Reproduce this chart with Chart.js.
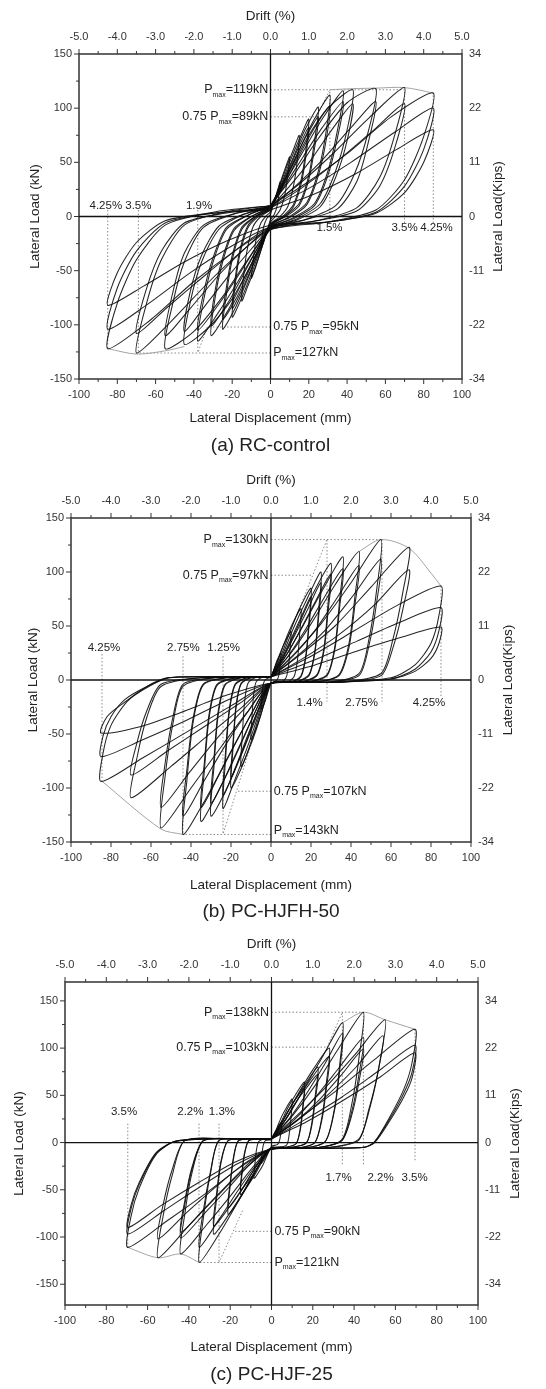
<!DOCTYPE html>
<html>
<head>
<meta charset="utf-8">
<script src="https://cdn.jsdelivr.net/npm/chart.js@4.4.1/dist/chart.umd.min.js"></script>
<style>
  body { margin: 0; background: #fff; width: 546px; height: 1389px; position: relative; overflow: hidden; }
  .panel { position: absolute; left: 0; width: 546px; }
</style>
</head>
<body>
<div class="panel" style="top:0"><canvas id="c1" width="546" height="458"></canvas></div>
<div class="panel" style="top:458px"><canvas id="c2" width="546" height="467"></canvas></div>
<div class="panel" style="top:925px"><canvas id="c3" width="546" height="464"></canvas></div>
<script>
const FF = '"Liberation Sans", Arial, sans-serif';

// axis ticks
const dispTicks = [-100, -80, -60, -40, -20, 0, 20, 40, 60, 80, 100];
const driftTicks = [-5, -4, -3, -2, -1, 0, 1, 2, 3, 4, 5];
const loadTicks = [-150, -100, -50, 0, 50, 100, 150];
const kipsLabels = ['-34', '-22', '-11', '0', '11', '22', '34'];

// (a) RC-control: load cycles [mm, kN]
const rcLoops = [
  [[0,2],[2,14],[4,26],[5,32],[4.5,22],[3.5,10],[2,2],[0,-3],[-2,-14],[-4,-25],[-5,-30],[-4.5,-20],[-3.5,-9],[-2,-2],[0,2]],
  [[0,4],[3,20],[6,36],[8,46],[10,55],[9,38],[7.5,20],[5,6],[2,-1],[0,-5],[-3,-20],[-6,-37],[-8,-48],[-10,-57],[-9,-40],[-7.5,-21],[-5,-6],[-2,1],[0,4]],
  [[0,6],[4,24],[8,44],[12,62],[15,75],[14,52],[12,28],[9,9],[5,0],[0,-7],[-4,-26],[-8,-47],[-12,-65],[-15,-78],[-14,-54],[-12,-29],[-9,-9],[-5,0],[0,6]],
  [[0,7],[5,27],[10,50],[15,71],[20,90],[18.5,62],[16,34],[12,11],[7,1],[0,-8],[-5,-29],[-10,-53],[-15,-75],[-20,-93],[-18.5,-64],[-16,-35],[-12,-11],[-7,-1],[0,7]],
  [[0,6],[5,24],[10,45],[15,65],[20,82],[18.5,56],[16,30],[12,9],[7,0],[0,-7],[-5,-26],[-10,-48],[-15,-68],[-20,-85],[-18.5,-58],[-16,-31],[-12,-9],[-7,0],[0,6]],
  [[0,8],[6,30],[12,55],[18,80],[25,101],[23,70],[20,38],[15,12],[8,1],[0,-9],[-6,-32],[-12,-58],[-18,-83],[-25,-104],[-23,-72],[-20,-40],[-15,-12],[-8,0],[0,8]],
  [[0,7],[6,27],[12,50],[18,72],[25,92],[23,63],[20,34],[15,10],[8,0],[0,-8],[-6,-29],[-12,-53],[-18,-76],[-25,-95],[-23,-65],[-20,-36],[-15,-10],[-8,0],[0,7]],
  [[0,9],[7,32],[14,58],[22,87],[31,112],[29,78],[25,42],[19,13],[10,0],[0,-10],[-7,-33],[-14,-58],[-22,-86],[-31,-110],[-29,-76],[-25,-42],[-19,-13],[-10,0],[0,9]],
  [[0,8],[7,29],[14,53],[22,79],[31,102],[29,70],[25,38],[19,11],[10,-1],[0,-9],[-7,-30],[-14,-53],[-22,-79],[-31,-101],[-29,-69],[-25,-38],[-19,-11],[-10,0],[0,8]],
  [[0,10],[8,33],[17,60],[27,90],[38,116],[35,80],[30,42],[23,12],[12,-1],[0,-11],[-8,-33],[-17,-60],[-27,-88],[-38,-115],[-35,-78],[-30,-42],[-23,-12],[-12,1],[0,10]],
  [[0,9],[8,30],[17,55],[27,82],[38,106],[35,73],[30,38],[23,10],[12,-2],[0,-10],[-8,-30],[-17,-55],[-27,-81],[-38,-105],[-35,-71],[-30,-38],[-23,-10],[-12,1],[0,9]],
  [[0,10],[10,42],[20,75],[30,100],[43,117],[40,80],[34,42],[26,12],[14,-2],[0,-12],[-10,-44],[-20,-76],[-32,-102],[-45,-118],[-42,-80],[-36,-42],[-27,-12],[-14,2],[0,10]],
  [[0,8],[10,28],[21,52],[32,80],[43,104],[40,70],[34,36],[26,9],[14,-3],[0,-11],[-10,-30],[-22,-55],[-34,-82],[-45,-106],[-42,-70],[-36,-36],[-27,-9],[-14,2],[0,8]],
  [[0,10],[12,38],[25,72],[40,105],[55,118],[51,78],[44,40],[34,10],[18,-3],[0,-12],[-12,-40],[-25,-74],[-40,-106],[-55,-122],[-51,-80],[-45,-42],[-35,-10],[-18,3],[0,10]],
  [[0,8],[13,28],[27,52],[42,82],[55,106],[51,68],[45,32],[35,7],[18,-3],[0,-10],[-13,-29],[-27,-54],[-42,-85],[-55,-110],[-51,-70],[-45,-34],[-35,-8],[-18,3],[0,8]],
  [[0,10],[15,30],[32,57],[52,92],[70,119],[65,76],[57,36],[45,8],[24,-4],[0,-12],[-15,-32],[-32,-60],[-52,-97],[-70,-126],[-65,-82],[-57,-40],[-45,-8],[-24,4],[0,10]],
  [[0,8],[16,26],[34,50],[54,80],[70,104],[65,64],[57,28],[45,5],[24,-4],[0,-10],[-16,-28],[-34,-54],[-54,-84],[-70,-108],[-65,-68],[-57,-32],[-45,-6],[-24,3],[0,8]],
  [[0,10],[18,30],[40,58],[63,92],[85,114],[80,74],[70,34],[55,6],[30,-5],[0,-12],[-18,-31],[-40,-60],[-63,-96],[-85,-122],[-80,-80],[-70,-40],[-55,-8],[-30,4],[0,10]],
  [[0,8],[20,26],[42,50],[65,78],[85,100],[80,62],[70,28],[55,4],[30,-5],[0,-10],[-20,-27],[-42,-52],[-65,-82],[-85,-104],[-80,-66],[-70,-32],[-55,-6],[-30,3],[0,8]],
  [[0,6],[22,20],[45,40],[66,62],[85,80],[80,50],[70,22],[55,3],[30,-5],[0,-8],[-22,-22],[-45,-42],[-66,-64],[-85,-82],[-80,-52],[-70,-24],[-55,-4],[-30,3],[0,6]]
];
const rcEnvelope = [
  [[31,117],[43,118],[55,118.5],[70,119],[85,114]],
  [[-85,-122],[-70,-127],[-55,-124],[-45,-120]]
];
const rcGuides = [
  [[31,-6],[31,117]], [[70,-6],[70,117]], [[85,-6],[85,114]],
  [[-85,6],[-85,-122]], [[-69,6],[-69,-126]], [[-38,6],[-38,-126]],
  [[0,117],[70,117]], [[0,92],[25,92]], [[24,92],[31,117]],
  [[0,-102],[-33,-102]], [[0,-126],[-70,-126]], [[-33,-102],[-38,-126]]
];
const rcPmaxNotes = [
  ['', '=119kN', -1.2, 117, 'right'],
  ['0.75 ', '=89kN', -1.2, 92, 'right'],
  ['0.75 ', '=95kN', 1.4, -102, 'left'],
  ['', '=127kN', 1.4, -126, 'left']
];
const rcDriftNotes = [
  ['4.25%', -86, 10], ['3.5%', -69, 10], ['1.9%', -37.3, 10],
  ['1.5%', 30.8, -10.3], ['3.5%', 70, -10.3], ['4.25%', 86.7, -10.3]
];

// (b) PC-HJFH-50
const hjfhLoops = [
  [[0,2],[1.5,10],[3,18],[5,25],[4.6,14],[4,5],[3,0],[1,-2],[0,-3],[-1.5,-11],[-3,-20],[-5,-27],[-4.6,-15],[-4,-5],[-3,0],[-1,2],[0,2]],
  [[0,3],[2.5,14],[5,27],[7.5,37],[10,45],[9.5,28],[8.7,12],[7.5,2],[5,-2],[0,-3],[-2.5,-16],[-5,-32],[-7.5,-45],[-10,-55],[-9.5,-34],[-8.7,-14],[-7.5,-2],[-5,2],[0,3]],
  [[0,3],[3.5,18],[7,36],[11,53],[15,66],[14.3,42],[13.2,18],[11.5,3],[8,-2],[0,-3],[-3.5,-22],[-7,-44],[-11,-64],[-15,-80],[-14.3,-50],[-13.2,-20],[-11.5,-3],[-8,2],[0,3]],
  [[0,3],[4.5,20],[9,42],[14,65],[20,85],[19,55],[17.5,24],[15,4],[10,-2],[0,-3],[-4.5,-25],[-9,-52],[-14,-78],[-20,-100],[-19,-64],[-17.5,-26],[-15,-4],[-10,2],[0,3]],
  [[0,3],[5,18],[10,38],[15,58],[20,77],[19,50],[17.5,22],[15,3],[10,-2],[0,-3],[-5,-23],[-10,-47],[-15,-70],[-20,-90],[-19,-58],[-17.5,-24],[-15,-3],[-10,2],[0,3]],
  [[0,3],[5.5,22],[11,47],[18,75],[25,100],[23.8,64],[22,28],[19,5],[12,-2],[0,-3],[-5.5,-28],[-11,-58],[-18,-92],[-24,-119],[-22.8,-76],[-21,-32],[-18,-5],[-12,2],[0,3]],
  [[0,3],[6,20],[12,42],[18.5,66],[25,90],[23.8,58],[22,26],[19,4],[12,-2],[0,-3],[-6,-26],[-12,-53],[-18,-82],[-24,-107],[-22.8,-68],[-21,-29],[-18,-4],[-12,2],[0,3]],
  [[0,3],[6.5,23],[13,48],[21,80],[30,108],[28.5,70],[26.5,30],[23,5],[15,-2],[0,-3],[-6.5,-28],[-13,-60],[-21,-96],[-30,-126],[-28.5,-80],[-26.5,-34],[-23,-5],[-15,2],[0,3]],
  [[0,3],[7,21],[14,44],[22,72],[30,98],[28.5,63],[26.5,27],[23,4],[15,-2],[0,-3],[-7,-26],[-14,-55],[-22,-87],[-30,-114],[-28.5,-72],[-26.5,-30],[-23,-4],[-15,2],[0,3]],
  [[0,3],[8,24],[16,50],[26,84],[36,114],[34.3,74],[32,32],[28,5],[18,-2],[0,-3],[-8,-30],[-16,-62],[-25,-98],[-35,-131],[-33.3,-84],[-31,-36],[-27,-5],[-17,2],[0,3]],
  [[0,3],[8.5,22],[17,46],[26.5,76],[36,103],[34.3,67],[32,29],[28,4],[18,-2],[0,-3],[-8.5,-27],[-17,-56],[-26,-88],[-35,-118],[-33.3,-76],[-31,-32],[-27,-4],[-17,2],[0,3]],
  [[0,3],[10,25],[20,52],[32,88],[44,119],[42,78],[39,34],[34,5],[22,-2],[0,-3],[-10,-32],[-20,-66],[-32,-108],[-44,-143],[-42,-92],[-39,-40],[-34,-5],[-22,2],[0,3]],
  [[0,3],[11,22],[22,46],[33,76],[44,106],[42,70],[39,30],[34,4],[22,-2],[0,-3],[-11,-28],[-22,-58],[-33,-92],[-44,-126],[-42,-82],[-39,-36],[-34,-4],[-22,2],[0,3]],
  [[0,3],[12,25],[25,52],[40,90],[55,130],[53,86],[49,38],[44,6],[28,-2],[0,-3],[-12,-30],[-25,-62],[-40,-100],[-55,-137],[-53,-90],[-49,-40],[-44,-6],[-28,2],[0,3]],
  [[0,3],[13,22],[27,46],[41,78],[55,112],[53,74],[49,32],[44,4],[28,-2],[0,-3],[-13,-26],[-27,-54],[-41,-86],[-55,-118],[-53,-78],[-49,-34],[-44,-4],[-28,2],[0,3]],
  [[0,3],[15,24],[32,50],[50,86],[69,123],[66,82],[61,38],[55,6],[35,-2],[0,-3],[-15,-26],[-32,-52],[-50,-80],[-70,-109],[-67,-72],[-62,-34],[-55,-6],[-35,2],[0,3]],
  [[0,3],[16,20],[34,42],[52,70],[69,102],[66,66],[61,30],[55,4],[35,-2],[0,-3],[-16,-22],[-34,-44],[-52,-66],[-70,-88],[-67,-58],[-62,-28],[-55,-4],[-35,2],[0,3]],
  [[0,3],[20,22],[42,46],[64,70],[85,87],[84,60],[80,34],[72,14],[60,2],[30,-2],[0,-3],[-20,-24],[-42,-48],[-64,-72],[-85,-94],[-84,-68],[-80,-42],[-72,-20],[-62,-6],[-52,2],[-30,3],[0,3]],
  [[0,3],[21,18],[43,36],[65,54],[85,67],[84,46],[80,26],[72,10],[60,1],[30,-2],[0,-3],[-21,-18],[-43,-38],[-65,-56],[-85,-71],[-84,-52],[-80,-34],[-73,-18],[-62,-6],[-51,2],[-30,3],[0,3]],
  [[0,3],[22,14],[45,28],[66,40],[85,49],[84,34],[80,20],[72,8],[60,1],[30,-2],[0,-3],[-22,-14],[-45,-30],[-65,-43],[-85,-49],[-82,-34],[-75,-23],[-62,-7],[-51,2],[-30,3],[0,3]]
];
const hjfhEnvelope = [
  [[44,119],[55,130],[69,122],[80,99],[85,87]],
  [[-85,-93],[-55,-138],[-44,-143]]
];
const hjfhGuides = [
  [[-84.5,24],[-84.5,-93]], [[-44,22],[-44,-143]], [[-24,22],[-24,-143]],
  [[28,130],[28,-20]], [[55.5,130],[55.5,-20]], [[85,87],[85,-16]],
  [[0,130],[55,130]], [[0,97],[21,97]], [[12,56],[28,130]],
  [[0,-103],[-17,-103]], [[0,-143],[-44,-143]], [[-9,-54],[-24,-143]]
];
const hjfhPmaxNotes = [
  ['', '=130kN', -1.2, 130, 'right'],
  ['0.75 ', '=97kN', -1.2, 97, 'right'],
  ['0.75 ', '=107kN', 1.4, -103, 'left'],
  ['', '=143kN', 1.4, -139, 'left']
];
const hjfhDriftNotes = [
  ['4.25%', -83.5, 29.6], ['2.75%', -43.8, 29.6], ['1.25%', -23.7, 29.6],
  ['1.4%', 19.3, -21.6], ['2.75%', 45.3, -21.6], ['4.25%', 79, -21.6]
];

// (c) PC-HJF-25
const hjfLoops = [
  [[0,3],[1.5,9],[3,16],[5,22],[4.6,12],[4,3],[3,-2],[0,-4],[-1.5,-10],[-3,-16],[-5,-22],[-4.6,-12],[-4,-3],[-3,2],[0,3]],
  [[0,4],[2.5,15],[5,28],[7.5,38],[10,46],[9.5,28],[8.7,11],[7.5,-2],[4,-5],[0,-5],[-2,-13],[-4.2,-24],[-6.4,-32],[-8.5,-38],[-8,-22],[-7.3,-8],[-6.2,1],[-3,4],[0,4]],
  [[0,4],[4,19],[8,37],[12,52],[16,64],[15.2,40],[14,16],[12,-1],[7,-5],[0,-6],[-3.5,-16],[-7.5,-32],[-11,-44],[-15,-55],[-14.2,-32],[-13,-12],[-11,2],[-6,4],[0,4]],
  [[0,4],[4,17],[8,33],[12,47],[16,58],[15.2,36],[14,14],[12,-1],[7,-5],[0,-6],[-3.5,-14],[-7.5,-29],[-11,-40],[-15,-50],[-14.2,-29],[-13,-10],[-11,2],[-6,4],[0,4]],
  [[0,4],[5,22],[11,44],[17,64],[22.5,80],[21.3,52],[19.6,22],[17,0],[10,-5],[0,-6],[-5,-20],[-10,-40],[-15.5,-60],[-21,-76],[-20,-46],[-18.3,-16],[-16,2],[-9,4],[0,4]],
  [[0,4],[5.5,20],[11,40],[17,58],[22.5,72],[21.3,47],[19.6,19],[17,0],[10,-5],[0,-6],[-5,-18],[-10.5,-36],[-15.5,-54],[-21,-69],[-20,-42],[-18.3,-14],[-16,2],[-9,4],[0,4]],
  [[0,4],[6,25],[13,52],[20,77],[28,100],[26.6,64],[24.5,28],[21,0],[12,-6],[0,-6],[-6,-24],[-13,-50],[-20,-74],[-28,-97],[-26.6,-60],[-24.5,-22],[-21,2],[-12,4],[0,4]],
  [[0,4],[6.5,23],[13,47],[20,70],[28,91],[26.6,58],[24.5,25],[21,0],[12,-6],[0,-6],[-6.5,-22],[-13,-45],[-20,-67],[-28,-88],[-26.6,-54],[-24.5,-20],[-21,2],[-12,4],[0,4]],
  [[0,4],[8,28],[16,58],[25,92],[34.5,127],[33,82],[30.5,36],[26,1],[15,-6],[0,-6],[-7,-27],[-15,-58],[-24,-92],[-35,-127],[-33,-80],[-29.5,-32],[-25.5,2],[-14,4],[0,4]],
  [[0,4],[8.5,25],[17,52],[26,84],[34.5,116],[33,76],[30.5,34],[26,1],[15,-6],[0,-6],[-7.5,-24],[-16,-50],[-25,-80],[-35,-111],[-33,-72],[-29.5,-30],[-25.5,2],[-14,4],[0,4]],
  [[0,4],[10,28],[21,60],[32,98],[44.5,138],[42.5,92],[39,42],[34,3],[20,-6],[0,-6],[-9,-26],[-19,-54],[-31,-86],[-44,-118],[-42,-76],[-38.5,-32],[-33,2],[-18,4],[0,4]],
  [[0,4],[11,24],[22,50],[33,80],[44.5,111],[42.5,74],[39,34],[34,2],[20,-6],[0,-6],[-10,-22],[-20,-46],[-32,-74],[-44,-101],[-42,-66],[-38.5,-28],[-33,2],[-18,4],[0,4]],
  [[0,4],[11.5,22],[23,45],[34,72],[44.5,99],[42.5,66],[39,30],[34,2],[20,-6],[0,-6],[-10.5,-21],[-21,-44],[-32.5,-70],[-44,-95],[-42,-62],[-38.5,-26],[-33,2],[-18,4],[0,4]],
  [[0,4],[12,28],[26,58],[40,92],[55,130],[52.5,86],[48,40],[42,3],[25,-6],[0,-7],[-12,-26],[-26,-56],[-40,-88],[-55,-122],[-52.5,-78],[-48,-34],[-42,2],[-22,4],[0,4]],
  [[0,4],[13,24],[27,50],[41,80],[54,113],[51.5,74],[47,34],[42,2],[25,-6],[0,-7],[-13,-22],[-27,-47],[-41,-74],[-55,-102],[-52.5,-66],[-48,-28],[-42,2],[-22,4],[0,4]],
  [[0,4],[15,28],[32,56],[50,88],[69.5,120],[68,84],[64,56],[57,26],[50,1],[45,-5],[20,-6],[0,-7],[-15,-26],[-32,-54],[-50,-82],[-69.6,-111],[-68,-78],[-64,-48],[-56,-13],[-47,1],[-30,4],[0,4]],
  [[0,4],[16,24],[34,48],[52,76],[69.5,103],[68,74],[64,52],[57,24],[50,1],[45,-5],[20,-6],[0,-7],[-16,-22],[-34,-46],[-52,-72],[-69.6,-97],[-68,-70],[-64,-44],[-56,-12],[-47,1],[-30,4],[0,4]],
  [[0,4],[17,22],[35,45],[53,70],[69.5,95],[68,68],[64,48],[57,22],[50,0],[45,-5],[20,-6],[0,-7],[-17,-20],[-35,-42],[-53,-66],[-69.6,-90],[-68,-66],[-64,-42],[-56,-11],[-47,1],[-30,4],[0,4]]
];
const hjfEnvelope = [
  [[34.5,127],[44.5,138],[55,130],[69.5,120]],
  [[-69.6,-111],[-55,-122],[-44,-118],[-35,-127]]
];
const hjfGuides = [
  [[-69.6,20],[-69.6,-111]], [[-35.1,20],[-35.1,-127]], [[-25.4,20],[-25.4,-127]],
  [[34.3,138],[34.3,-24]], [[44.5,138],[44.5,-24]], [[69.5,120],[69.5,-20]],
  [[0,138],[44.5,138]], [[0,101],[27,101]], [[27,101],[34.3,138]],
  [[0,-94],[-18,-94]], [[0,-127],[-35.1,-127]], [[-14,-72],[-25.4,-127]]
];
const hjfPmaxNotes = [
  ['', '=138kN', -1.2, 138, 'right'],
  ['0.75 ', '=103kN', -1.2, 101, 'right'],
  ['0.75 ', '=90kN', 1.4, -94, 'left'],
  ['', '=121kN', 1.4, -127, 'left']
];
const hjfDriftNotes = [
  ['3.5%', -71.4, 33], ['2.2%', -39.3, 33], ['1.3%', -24, 33],
  ['1.7%', 32.5, -37], ['2.2%', 52.8, -37], ['3.5%', 69.3, -37]
];

function lineSet(pts, style) {
  return Object.assign({
    data: pts.map(p => ({ x: p[0], y: p[1] })),
    showLine: true, pointRadius: 0, pointHoverRadius: 0, fill: false
  }, style);
}

function withMinor(arr) {
  const out = [];
  arr.forEach((v, i) => {
    out.push([v, true]);
    if (i < arr.length - 1) out.push([(v + arr[i + 1]) / 2, false]);
  });
  return out;
}

const panelDeco = {
  id: 'panelDeco',
  afterDraw(chart, args, o) {
    const { ctx, chartArea: a } = chart;
    const sx = chart.scales.x, sy = chart.scales.y, st = chart.scales.x2;
    const seg = (x1, y1, x2, y2) => { ctx.beginPath(); ctx.moveTo(x1, y1); ctx.lineTo(x2, y2); ctx.stroke(); };
    ctx.save();

    // ticks (outward)
    ctx.strokeStyle = '#333';
    ctx.lineWidth = 1;
    withMinor(dispTicks).forEach(([v, maj]) => {
      const p = sx.getPixelForValue(v); seg(p, a.bottom, p, a.bottom + (maj ? 5 : 3));
    });
    withMinor(driftTicks).forEach(([v, maj]) => {
      const p = st.getPixelForValue(v); seg(p, a.top, p, a.top - (maj ? 5 : 3));
    });
    withMinor(loadTicks).forEach(([v, maj]) => {
      const p = sy.getPixelForValue(v); seg(a.left, p, a.left - (maj ? 5 : 3), p);
    });

    // frame + zero lines
    ctx.lineWidth = 1.5;
    ctx.strokeRect(a.left, a.top, a.right - a.left, a.bottom - a.top);
    ctx.strokeStyle = '#111';
    ctx.lineWidth = 1.3;
    const x0 = sx.getPixelForValue(0), y0 = sy.getPixelForValue(0);
    seg(a.left, y0, a.right, y0);
    seg(x0, a.top, x0, a.bottom);

    // titles
    ctx.fillStyle = '#222';
    ctx.textAlign = 'center';
    ctx.textBaseline = 'middle';
    const cx = (a.left + a.right) / 2, cy = (a.top + a.bottom) / 2;
    ctx.font = '13.5px ' + FF;
    ctx.fillText('Drift (%)', cx, a.top - 37.5);
    ctx.fillText('Lateral Displacement (mm)', cx, a.bottom + o.xTitleOff);
    ctx.save(); ctx.translate(o.yTitleX, cy); ctx.rotate(-Math.PI / 2);
    ctx.fillText('Lateral Load (kN)', 0, 0); ctx.restore();
    ctx.save(); ctx.translate(o.y2TitleX, cy); ctx.rotate(-Math.PI / 2);
    ctx.fillText('Lateral Load(Kips)', 0, 0); ctx.restore();
    ctx.font = '19px ' + FF;
    ctx.fillText(o.caption, cx, a.bottom + o.capOff);

    // drift % notes
    ctx.font = '11.5px ' + FF;
    o.dNotes.forEach(([t, x, y]) => ctx.fillText(t, sx.getPixelForValue(x), sy.getPixelForValue(y)));

    // Pmax notes
    ctx.textAlign = 'left';
    o.pNotes.forEach(([pre, val, x, y, side]) => {
      const big = '12.5px ' + FF, small = '7px ' + FF;
      ctx.font = big;
      const w1 = ctx.measureText(pre + 'P').width, w3 = ctx.measureText(val).width;
      ctx.font = small;
      const w2 = ctx.measureText('max').width;
      const px = sx.getPixelForValue(x), py = sy.getPixelForValue(y);
      const left = side === 'right' ? px - (w1 + w2 + w3) : px;
      ctx.font = big; ctx.fillText(pre + 'P', left, py);
      ctx.font = small; ctx.fillText('max', left + w1, py + 5);
      ctx.font = big; ctx.fillText(val, left + w1 + w2, py);
    });
    ctx.restore();
  }
};

const tickFont = { family: FF, size: 11 };

function makePanel(id, box, yRange, loops, envelope, guides, deco) {
  const canvas = document.getElementById(id);
  const H = canvas.height;
  const datasets = [];
  loops.forEach(l => datasets.push(lineSet(l, { borderColor: 'rgba(12,12,12,0.9)', borderWidth: 1.05, tension: 0.25 })));
  envelope.forEach(l => datasets.push(lineSet(l, { borderColor: '#a3a3a3', borderWidth: 1, tension: 0.3 })));
  guides.forEach(l => datasets.push(lineSet(l, { borderColor: '#8a8a8a', borderWidth: 1, borderDash: [1.5, 2], tension: 0 })));

  const hidden = { display: false, drawTicks: false };
  new Chart(canvas, {
    type: 'scatter',
    data: { datasets },
    options: {
      responsive: false,
      animation: false,
      events: [],
      layout: { padding: 0, autoPadding: false },
      plugins: { legend: { display: false }, tooltip: { enabled: false }, panelDeco: deco },
      scales: {
        x: {
          type: 'linear', position: 'bottom', min: -100, max: 100,
          grid: hidden, border: { display: false },
          afterBuildTicks: s => { s.ticks = dispTicks.map(v => ({ value: v })); },
          afterFit: s => { s.height = H - box.bottom; },
          ticks: { padding: 9, font: tickFont, color: '#333', maxRotation: 0, autoSkip: false }
        },
        x2: {
          type: 'linear', position: 'top', min: -5, max: 5,
          grid: hidden, border: { display: false },
          afterBuildTicks: s => { s.ticks = driftTicks.map(v => ({ value: v })); },
          afterFit: s => { s.height = box.top; },
          ticks: { padding: 10.5, font: tickFont, color: '#333', maxRotation: 0, autoSkip: false,
                   callback: v => Number(v).toFixed(1) }
        },
        y: {
          type: 'linear', position: 'left', min: yRange[0], max: yRange[1],
          grid: hidden, border: { display: false },
          afterBuildTicks: s => { s.ticks = loadTicks.map(v => ({ value: v })); },
          afterFit: s => { s.width = box.left; },
          ticks: { padding: 7, font: tickFont, color: '#333', autoSkip: false }
        },
        y2: {
          type: 'linear', position: 'right', min: yRange[0], max: yRange[1],
          grid: hidden, border: { display: false },
          afterBuildTicks: s => { s.ticks = loadTicks.map(v => ({ value: v })); },
          afterFit: s => { s.width = 546 - box.right; },
          ticks: { padding: 7, font: tickFont, color: '#333', autoSkip: false,
                   callback: v => kipsLabels[loadTicks.indexOf(v)] }
        }
      }
    },
    plugins: [panelDeco]
  });
}

makePanel('c1', { left: 79, right: 462, top: 54, bottom: 379 }, [-150, 150],
  rcLoops, rcEnvelope, rcGuides,
  { caption: '(a) RC-control', xTitleOff: 39, capOff: 67, yTitleX: 35, y2TitleX: 498,
    pNotes: rcPmaxNotes, dNotes: rcDriftNotes });

makePanel('c2', { left: 71, right: 471, top: 60, bottom: 384 }, [-150, 150],
  hjfhLoops, hjfhEnvelope, hjfhGuides,
  { caption: '(b) PC-HJFH-50', xTitleOff: 43, capOff: 70, yTitleX: 33, y2TitleX: 508,
    pNotes: hjfhPmaxNotes, dNotes: hjfhDriftNotes });

makePanel('c3', { left: 65, right: 478, top: 57, bottom: 380 }, [-172, 170],
  hjfLoops, hjfEnvelope, hjfGuides,
  { caption: '(c) PC-HJF-25', xTitleOff: 42, capOff: 70, yTitleX: 19, y2TitleX: 515,
    pNotes: hjfPmaxNotes, dNotes: hjfDriftNotes });
</script>
</body>
</html>
